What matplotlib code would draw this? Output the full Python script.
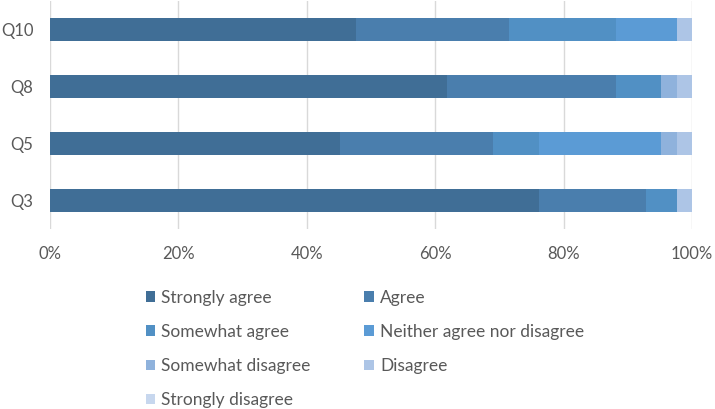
import matplotlib.pyplot as plt
import numpy as np
from matplotlib.ticker import PercentFormatter

plt.rcParams['font.family'] = ['Lato', 'DejaVu Sans']

# survey answers, 42 respondents per question
questions = ['Q3', 'Q5', 'Q8', 'Q10']
answers = ['Strongly agree', 'Agree', 'Somewhat agree', 'Neither agree nor disagree',
           'Somewhat disagree', 'Disagree', 'Strongly disagree']
strongly_agree = [32, 19, 26, 20]
agree = [7, 10, 11, 10]
somewhat_agree = [2, 3, 3, 7]
neither = [0, 8, 0, 4]
somewhat_disagree = [0, 1, 1, 0]
disagree = [1, 1, 1, 1]
strongly_disagree = [0, 0, 0, 0]

colors = ['#406E96', '#4A7EAD', '#5190C4', '#5B9BD5', '#8FB2DC', '#ADC5E6', '#C7D7EE']
txt = '#595959'

counts = np.array([strongly_agree, agree, somewhat_agree, neither,
                   somewhat_disagree, disagree, strongly_disagree], dtype=float)
share = counts / counts.sum(axis=0)

fig = plt.figure(figsize=(7.15, 4.09), dpi=100)
ax = fig.add_axes([50/715, 1-229/409, 642/715, 228/409])

y = np.arange(len(questions))
left = np.zeros(len(questions))
handles = []
for i, name in enumerate(answers):
    h = ax.barh(y, share[i], left=left, height=0.4, color=colors[i], label=name, zorder=2)
    handles.append(h)
    left += share[i]

ax.set_xlim(0, 1)
ax.set_ylim(-0.5, 3.5)
ax.set_yticks(y)
ax.set_yticklabels(questions)
ax.set_xticks(np.arange(0, 1.01, 0.2))
ax.xaxis.set_major_formatter(PercentFormatter(1.0, decimals=0))
ax.grid(axis='x', color='#D9D9D9', linewidth=1, zorder=0)
for s in ax.spines.values():
    s.set_visible(False)
ax.tick_params(length=0, labelsize=12, colors=txt)
ax.tick_params(axis='x', pad=12)
ax.tick_params(axis='y', pad=12)

# legend is filled column by column, so reorder to read row by row
order = [0, 2, 4, 6, 1, 3, 5]
fig.legend(handles=[handles[i] for i in order], labels=[answers[i] for i in order],
           ncol=2, loc='upper left',
           bbox_to_anchor=(130/715, 1-274/409), frameon=False,
           fontsize=12.5, labelcolor=txt, handlelength=0.55, handleheight=0.55,
           handletextpad=0.35, columnspacing=3.1, labelspacing=1.05)

fig.savefig('out.png', dpi=100)
